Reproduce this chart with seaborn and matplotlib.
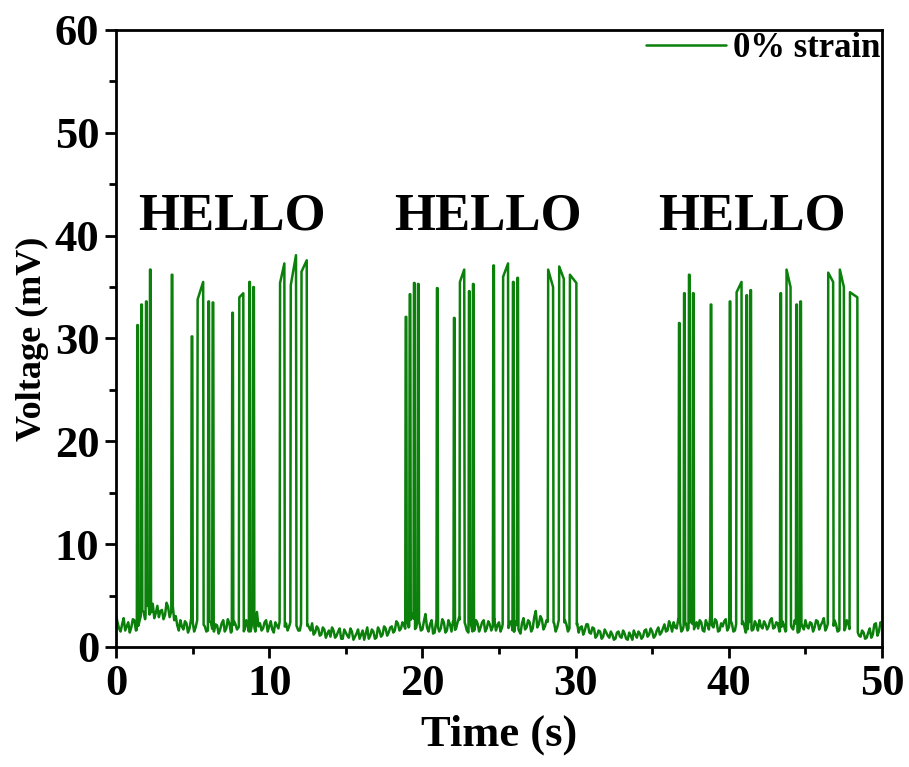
import numpy as np
import pandas as pd
import matplotlib
matplotlib.use("Agg")
import matplotlib.pyplot as plt
import seaborn as sns
from matplotlib.ticker import MultipleLocator

# ---------------- data ----------------
# baseline voltage (mV) sampled at t = 0.0, 0.2, 0.4, ... 50.0 s
baseline_mv = [
    3.1, 1.8, 2.2, 1.6, 2.4, 1.9, 2.6, 1.7, 2.9, 3.4,
    3.8, 3.0, 4.2, 3.3, 2.9, 3.6, 3.1, 3.9, 3.4, 2.6,
    2.1, 2.6, 1.7, 2.3, 1.8, 2.5, 1.9, 2.2, 2.8, 2.0,
    1.6, 2.4, 1.5, 2.1, 1.7, 2.6, 1.8, 2.3, 1.6, 2.2,
    1.9, 2.5, 1.7, 2.0, 1.6, 2.1, 3.4, 2.3, 1.8, 2.6,
    2.0, 1.7, 2.4, 1.8, 2.2, 1.9, 1.6, 2.5, 1.7, 2.0,
    1.6, 2.1, 1.5, 1.9, 2.3, 1.4, 1.8, 1.2, 1.7, 1.3,
    1.0, 1.6, 1.1, 1.8, 0.8, 1.4, 0.9, 1.5, 1.0, 1.7,
    1.2, 0.7, 1.9, 1.1, 1.5, 0.9, 1.6, 1.2, 1.8, 1.4,
    2.0, 1.6, 2.3, 1.8, 2.1, 2.6, 2.2, 3.0, 1.9, 2.4,
    1.7, 3.2, 1.5, 2.6, 1.4, 2.0, 1.8, 2.4, 1.6, 2.2,
    2.5, 1.8, 2.9, 1.5, 2.2, 1.4, 2.0, 1.7, 2.3, 1.9,
    2.6, 1.8, 2.2, 2.0, 1.6, 2.4, 1.9, 2.1, 1.7, 2.5,
    1.5, 2.0, 1.3, 2.8, 1.9, 2.4, 1.8, 3.5, 2.2, 2.7,
    2.0, 2.4, 1.8, 2.3, 1.9, 2.5, 2.1, 2.2, 1.8, 2.4,
    1.7, 1.4, 2.0, 1.6, 2.2, 1.3, 1.8, 1.1, 1.5, 1.0,
    1.4, 0.9, 1.2, 0.8, 1.5, 0.9, 1.3, 0.7, 1.1, 1.6,
    0.9, 1.3, 1.0, 1.7, 1.2, 1.5, 1.1, 1.9, 1.4, 2.2,
    1.6, 2.1, 2.4, 1.8, 2.6, 1.7, 2.3, 1.9, 2.5, 2.0,
    1.8, 2.4, 1.5, 2.2, 3.1, 1.9, 2.5, 1.6, 2.0, 2.7,
    1.9, 2.3, 1.6, 2.5, 1.8, 2.1, 1.5, 2.4, 1.7, 2.2,
    2.6, 1.8, 2.2, 2.0, 2.8, 1.9, 2.3, 1.6, 2.1, 1.8,
    2.4, 1.7, 2.2, 1.5, 2.0, 2.6, 1.8, 2.3, 1.9, 2.5,
    2.1, 2.8, 1.9, 2.4, 1.7, 2.2, 1.6, 2.0, 1.8, 2.3,
    1.9, 2.2, 1.5, 1.0, 1.4, 0.9, 1.8, 1.2, 2.3, 1.5,
    2.1,
]
# baseline voltage (mV) at the midpoints t = 0.1, 0.3, ... 49.9 s
baseline_mid_mv = [
    2.4, 1.5, 2.8, 2.0, 1.4, 2.7, 1.6, 2.3, 3.6, 2.7,
    4.5, 3.4, 2.8, 4.0, 3.5, 2.7, 4.3, 2.9, 4.1, 3.0,
    1.6, 2.0, 2.5, 1.4, 2.7, 1.5, 2.6, 1.7, 2.2, 1.5,
    2.5, 1.6, 2.2, 1.3, 2.3, 1.5, 2.7, 1.4, 2.5, 1.7,
    2.3, 1.4, 2.6, 1.3, 2.4, 1.5, 2.0, 1.6, 2.4, 1.5,
    2.5, 1.4, 2.1, 2.6, 1.5, 2.3, 2.0, 1.4, 2.3, 1.6,
    2.4, 1.3, 2.2, 1.6, 1.2, 2.0, 1.1, 1.9, 0.9, 1.6,
    1.9, 0.9, 1.5, 0.8, 1.7, 1.1, 1.8, 0.7, 1.3, 0.8,
    1.6, 1.3, 0.8, 1.7, 0.8, 1.9, 1.0, 2.0, 1.1, 1.9,
    1.4, 2.5, 1.6, 2.4, 1.7, 1.9, 3.3, 1.7, 2.8, 1.6,
    2.5, 1.9, 2.2, 1.3, 2.5, 1.5, 2.7, 1.4, 2.6, 1.5,
    1.6, 2.4, 1.7, 2.6, 1.6, 2.5, 1.3, 2.6, 1.5, 2.4,
    1.5, 2.5, 1.6, 2.7, 2.1, 1.5, 2.7, 1.6, 2.4, 1.4,
    2.5, 1.6, 2.3, 1.7, 2.6, 1.5, 2.9, 1.9, 3.0, 1.7,
    2.6, 1.7, 2.5, 1.5, 2.6, 1.7, 2.6, 1.5, 2.7, 1.6,
    2.3, 1.9, 1.2, 2.2, 1.4, 1.9, 0.9, 1.6, 0.8, 1.7,
    1.1, 1.5, 0.7, 1.4, 1.0, 1.6, 0.8, 1.4, 0.7, 1.2,
    1.5, 0.8, 1.6, 1.0, 1.8, 0.9, 1.6, 1.2, 1.8, 1.5,
    2.5, 1.5, 1.9, 2.7, 1.5, 2.4, 1.6, 2.6, 1.6, 2.4,
    2.6, 1.6, 2.6, 1.7, 2.1, 2.7, 1.5, 2.3, 2.5, 1.6,
    2.6, 1.5, 2.4, 1.6, 2.5, 1.4, 2.6, 1.6, 2.5, 1.6,
    2.0, 2.5, 1.7, 2.6, 1.8, 2.4, 1.5, 2.5, 1.5, 2.6,
    1.9, 2.6, 1.4, 2.5, 1.7, 2.0, 2.4, 1.5, 2.6, 1.7,
    2.4, 1.6, 2.5, 1.5, 2.6, 1.5, 2.4, 1.5, 2.6, 1.6,
    2.5, 1.6, 1.1, 1.6, 0.8, 1.4, 0.9, 2.2, 1.1, 2.4,
]

# voltage pulses: start (s), end (s), top value at start (mV), top value at end (mV)
pulse_start = [1.36, 1.62, 1.93, 2.19, 3.61, 4.91, 5.30, 6.00, 6.28, 7.56,
               8.02, 8.67, 8.93, 10.68, 11.38, 12.08,
               18.88, 19.14, 19.42, 19.68, 20.92, 22.03, 22.42, 23.01, 23.27,
               24.60, 25.24, 25.88, 26.17, 28.18, 28.90, 29.60,
               36.72, 37.05, 37.37, 37.63, 38.79, 40.03, 40.48, 41.12, 41.38,
               43.34, 43.74, 44.38, 44.64, 46.46, 47.22, 47.88]
pulse_end = [1.46, 1.72, 2.03, 2.29, 3.71, 5.01, 5.72, 6.10, 6.38, 7.66,
             8.34, 8.77, 9.03, 11.02, 11.78, 12.48,
             18.98, 19.24, 19.52, 19.78, 21.02, 22.13, 22.76, 23.11, 23.37,
             24.70, 25.62, 25.98, 26.27, 28.56, 29.26, 30.08,
             36.82, 37.15, 37.47, 37.73, 38.89, 40.13, 40.86, 41.22, 41.48,
             43.44, 44.06, 44.48, 44.74, 46.84, 47.54, 48.42]
pulse_top_a = [31.3, 33.3, 33.6, 36.7, 36.2, 30.2, 33.8, 33.6, 33.5, 32.5,
               34.0, 35.5, 35.0, 35.4, 35.2, 36.5,
               32.1, 34.3, 35.4, 35.3, 34.9, 32.0, 35.5, 34.6, 35.3,
               37.1, 36.0, 35.5, 35.9, 36.7, 37.0, 36.2,
               31.5, 34.4, 36.2, 34.4, 33.3, 33.6, 34.5, 34.2, 34.7,
               34.4, 36.7, 33.3, 33.6, 36.4, 36.7, 34.5]
pulse_top_b = [31.3, 33.3, 33.6, 36.7, 36.2, 30.2, 35.5, 33.6, 33.5, 32.5,
               34.4, 35.5, 35.0, 37.3, 38.1, 37.6,
               32.1, 34.3, 35.4, 35.3, 34.9, 32.0, 36.7, 34.6, 35.3,
               37.1, 37.3, 35.5, 35.9, 35.0, 35.8, 35.4,
               31.5, 34.4, 36.2, 34.4, 33.3, 33.6, 35.5, 34.2, 34.7,
               34.4, 35.0, 33.3, 33.6, 35.5, 35.0, 34.0]

hello_x = [7.6, 24.3, 41.5]
hello_text = "HELLO"
legend_label = "0% strain"

# ---------------- build the trace from the lists ----------------
t_coarse = np.arange(len(baseline_mv)) * 0.2
t_mid = np.arange(len(baseline_mid_mv)) * 0.2 + 0.1
bt = np.concatenate([t_coarse, t_mid])
bv = np.concatenate([baseline_mv, baseline_mid_mv])
o = np.argsort(bt)
bt, bv = bt[o], bv[o]

ps, pe = np.array(pulse_start), np.array(pulse_end)
inside = np.zeros(len(bt), dtype=bool)
for s, e in zip(ps, pe):
    inside |= (bt > s) & (bt < e)
ts = list(bt[~inside])
vs = list(bv[~inside])
rise = 0.03
for s, e, a, b in zip(ps, pe, pulse_top_a, pulse_top_b):
    base_s = float(np.interp(s, bt, bv))
    base_e = float(np.interp(e, bt, bv))
    ts += [s, s + rise, e - rise, e]
    vs += [base_s, a, b, base_e]
order = np.argsort(ts, kind="stable")
df = pd.DataFrame({"Time (s)": np.array(ts)[order],
                   "Voltage (mV)": np.array(vs)[order],
                   "series": legend_label})

# ---------------- plot ----------------
sns.set_theme(style="ticks")
plt.rcParams["font.family"] = ["Liberation Serif", "DejaVu Serif"]
plt.rcParams["font.weight"] = "bold"
plt.rcParams["text.color"] = "black"
plt.rcParams["axes.labelcolor"] = "black"
plt.rcParams["xtick.color"] = "black"
plt.rcParams["ytick.color"] = "black"

fig = plt.figure(figsize=(9.09, 7.67), dpi=100)
ax = fig.add_axes([0.1276, 0.1565, 0.8427, 0.8044])

sns.lineplot(data=df, x="Time (s)", y="Voltage (mV)", hue="series",
             palette=["#0b800b"], estimator=None, sort=False,
             linewidth=1.8, ax=ax)

ax.set_xlim(0, 50)
ax.set_ylim(0, 60)
ax.xaxis.set_major_locator(MultipleLocator(10))
ax.xaxis.set_minor_locator(MultipleLocator(5))
ax.yaxis.set_major_locator(MultipleLocator(10))
ax.yaxis.set_minor_locator(MultipleLocator(5))
ax.tick_params(which="major", direction="out", length=8, width=2,
               labelsize=32, colors="black", pad=4)
ax.tick_params(which="minor", direction="out", length=5, width=2,
               colors="black")
for lab in ax.get_xticklabels() + ax.get_yticklabels():
    lab.set_fontweight("bold")
for sp in ax.spines.values():
    sp.set_visible(True)
    sp.set_linewidth(2)
    sp.set_color("black")

ax.set_xlabel("Time (s)", fontsize=32, fontweight="bold", labelpad=8,
              color="black")
ax.set_ylabel("Voltage (mV)", fontsize=26, fontweight="bold", labelpad=4,
              color="black")

for hx in hello_x:
    ax.text(hx, 40.6, hello_text, ha="center", va="baseline",
            fontsize=38, fontweight="bold", color="black")

leg = ax.legend(loc="upper right", frameon=False, fontsize=25,
                handlelength=2.3, handletextpad=0.2, borderaxespad=0.05,
                borderpad=0.0)
for line in leg.get_lines():
    line.set_linewidth(1.8)
for txt in leg.get_texts():
    txt.set_fontweight("bold")
    txt.set_color("black")

fig.savefig("out.png", dpi=100)
